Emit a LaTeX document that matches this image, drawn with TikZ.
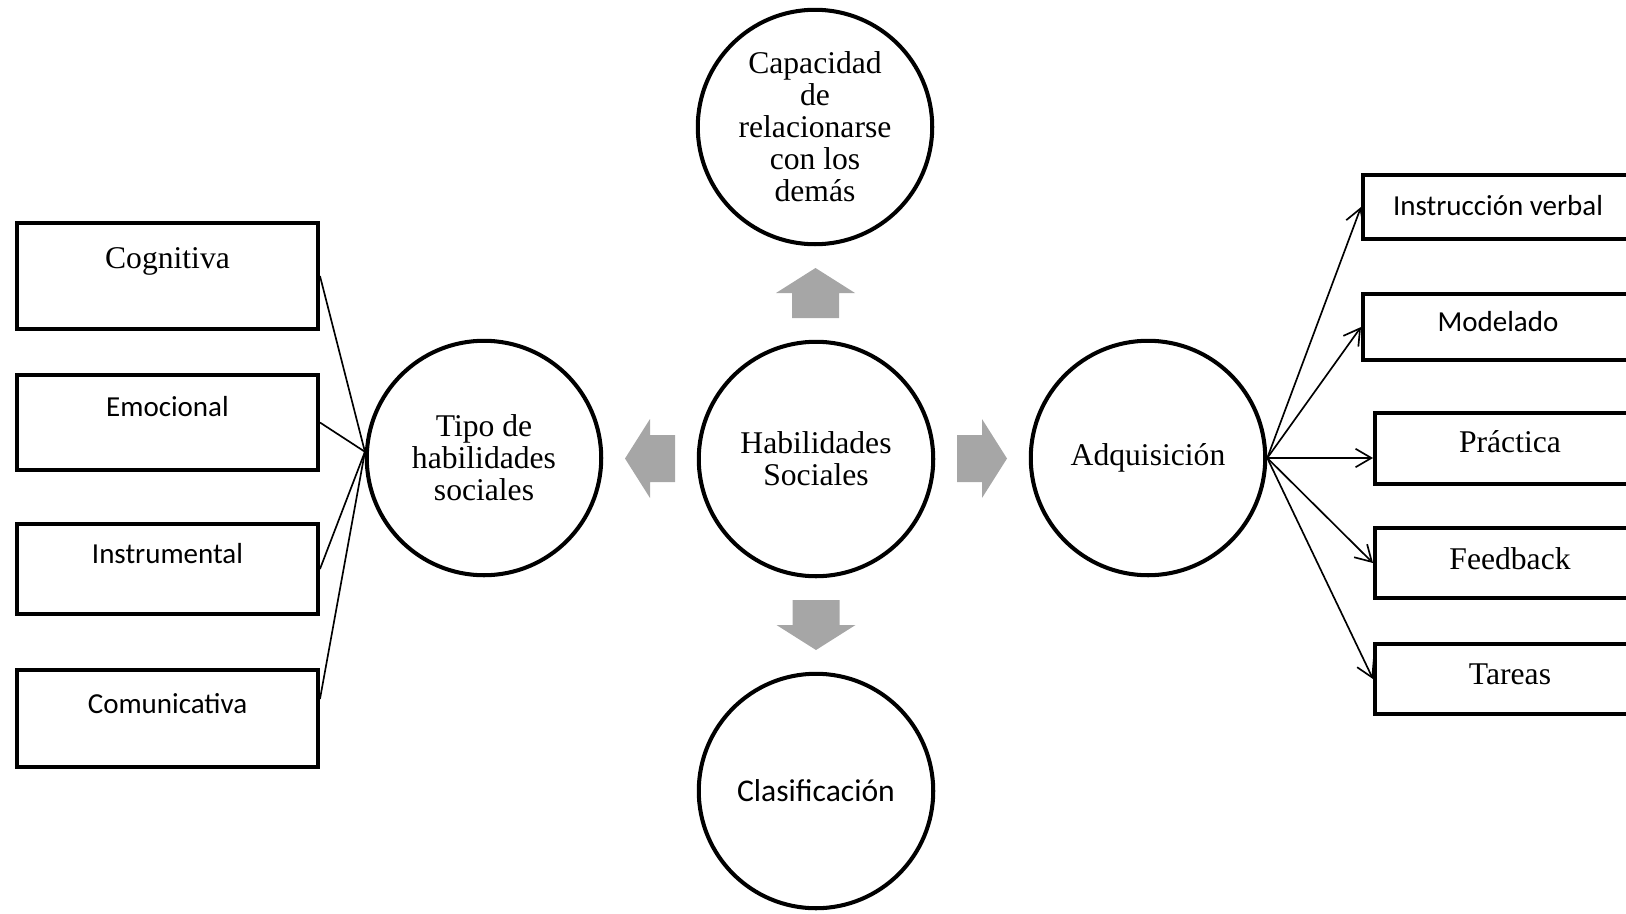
\documentclass[tikz,border=0pt]{standalone}
\usepackage{fontspec}
\setmainfont{Liberation Serif}
\newfontfamily\calibri{Carlito}
\usetikzlibrary{calc}
\usetikzlibrary{arrows.meta}
\definecolor{arrowgray}{RGB}{166,166,166}
\tikzset{
	bubble/.style={circle, draw, line width=2.3pt, minimum size=4.69cm, inner sep=0pt, align=center, font=\fontsize{18}{18.2}\selectfont},
	leftbox/.style={draw, line width=2.3pt, minimum width=6.02cm, inner sep=0pt, anchor=north west},
	rightbox/.style={draw, line width=2.3pt, minimum width=5.4cm, inner sep=0pt, anchor=north west},
	timesfont/.style={font=\fontsize{18}{18.2}\selectfont},
	calfont/.style={font=\calibri\fontsize{16.5}{18}\selectfont},
	link/.style={line width=0.95pt},
	branch/.style={line width=0.95pt, -{Straight Barb[length=9pt, width=10.5pt]}}
}
\newcommand{\grayarrow}[2]{%
	\fill[arrowgray, shift={(#1)}, rotate=#2] (-25,-23.5) -- (0,-23.5) -- (0,-39.5) -- (25,0) -- (0,39.5) -- (0,23.5) -- (-25,23.5) -- cycle;}

\begin{document}
\begin{tikzpicture}[x=0.02cm, y=-0.02cm]
	\useasboundingbox (0,0) rectangle (1626,913);

	\node[bubble] (hab) at (816,459) {Habilidades\\Sociales};%centre
	\node[bubble] (cap) at (815,127) {Capacidad\\de\\relacionarse\\con los\\demás};
	\node[bubble] (tipo) at (484,458) {Tipo de\\habilidades\\sociales};
	\node[bubble] (adq) at (1148,458) {Adquisición};
	\node[bubble, font=\calibri\fontsize{18}{18}\selectfont] (cla) at (816,791) {Clasificación};

	\coordinate (upmid) at ($(hab)!0.5!(cap)$);
	\coordinate (leftmid) at ($(hab)!0.5!(tipo)$);
	\coordinate (rightmid) at ($(hab)!0.5!(adq)$);
	\coordinate (downmid) at ($(hab)!0.5!(cla)$);
	\grayarrow{upmid}{90}
	\grayarrow{leftmid}{180}
	\grayarrow{rightmid}{0}
	\grayarrow{downmid}{270}

	\node[leftbox, timesfont, text height=0.9cm, text depth=1.22cm] (cog) at (15,221) {Cognitiva};%types
	\node[leftbox, calfont, text height=0.82cm, text depth=1.08cm] (emo) at (15,373) {Emocional};
	\node[leftbox, calfont, text height=0.78cm, text depth=1.02cm] (ins) at (15,522) {Instrumental};
	\node[leftbox, calfont, text height=0.86cm, text depth=1.08cm] (com) at (15,668) {Comunicativa};

	\node[rightbox, calfont, text height=0.8cm, text depth=0.48cm] (ivb) at (1361,173) {Instrucción verbal};%steps
	\node[rightbox, calfont, text height=0.74cm, text depth=0.58cm] (mod) at (1361,292) {Modelado};
	\node[rightbox, timesfont, text height=0.78cm, text depth=0.64cm] (pra) at (1373,411) {Práctica};
	\node[rightbox, timesfont, text height=0.82cm, text depth=0.58cm] (fee) at (1373,526) {Feedback};
	\node[rightbox, timesfont, text height=0.8cm, text depth=0.6cm] (tar) at (1373,642) {Tareas};

	\draw[link] (cog.east) -- (tipo.177);
	\draw[link] (emo.east) -- (tipo.177);
	\draw[link] (ins.east) -- (tipo.177);
	\draw[link] ([yshift=0.39cm]com.east) -- (tipo.177);

	\draw[branch] (adq.east) -- (ivb.west);
	\draw[branch] (adq.east) -- (mod.west);
	\draw[branch] (adq.east) -- (adq.east -| pra.west);
	\draw[branch] (adq.east) -- (fee.west);
	\draw[branch] (adq.east) -- (tar.west);
\end{tikzpicture}
\end{document}
